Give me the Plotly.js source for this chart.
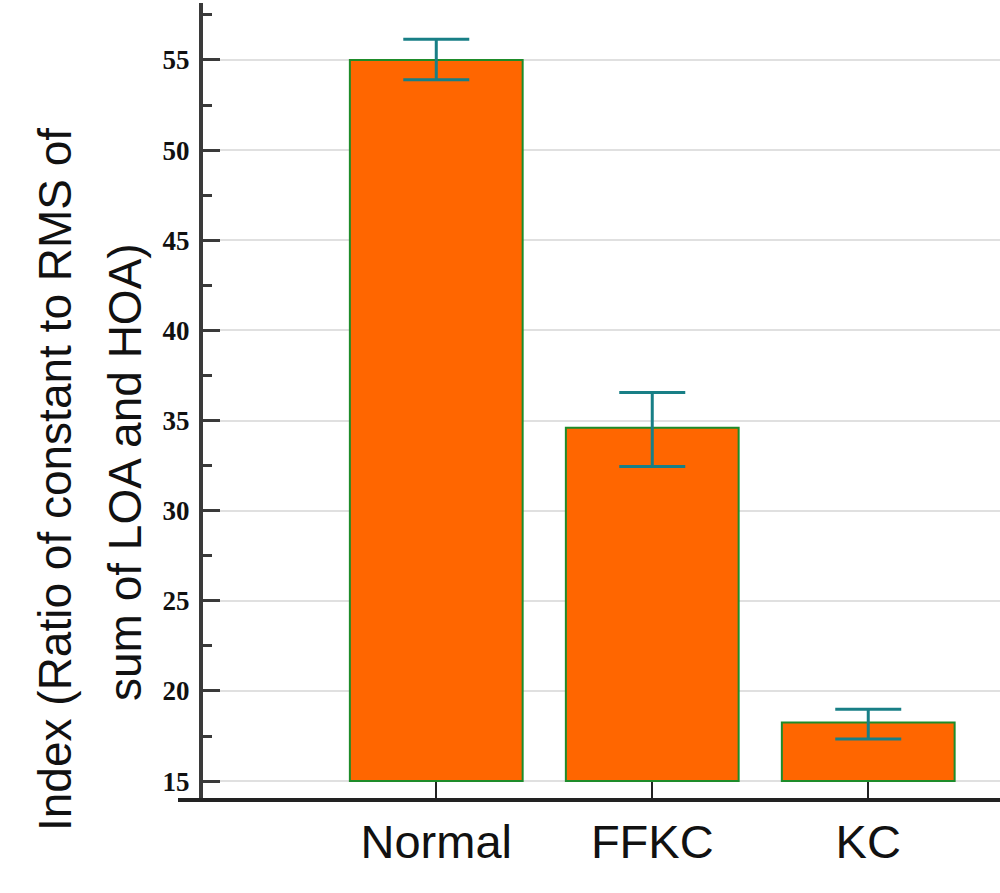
<!DOCTYPE html>
<html>
<head>
<meta charset="utf-8">
<script src="https://cdn.plot.ly/plotly-3.0.1.min.js"></script>
<style>
  html, body { margin: 0; padding: 0; background: #fff; }
  #chart { width: 1000px; height: 893px; }
</style>
</head>
<body>
<div id="chart"></div>
<script>
// values
var groups = ["Normal", "FFKC", "KC"];
var means = [55.0, 34.6, 18.25];
var upper = [56.15, 36.56, 18.99];
var lower = [53.9, 32.45, 17.33];
var baseLevel = 15;
var yTicks = [15, 20, 25, 30, 35, 40, 45, 50, 55];
var titleLines = ["Index (Ratio of constant to RMS of", "sum of LOA and HOA)"];

var heights = means.map(function (m) { return m - baseLevel; });
var errPlus = upper.map(function (u, i) { return u - means[i]; });
var errMinus = lower.map(function (l, i) { return means[i] - l; });

var data = [{
    type: "bar",
    x: groups,
    y: heights,
    base: groups.map(function () { return baseLevel; }),
    width: 0.8,
    marker: {
        color: "#ff6600",
        line: { color: "#1e8c2a", width: 2 }
    },
    error_y: {
        type: "data",
        symmetric: false,
        array: errPlus,
        arrayminus: errMinus,
        color: "#187f86",
        thickness: 3,
        width: 33
    },
    hoverinfo: "none"
}];

var titleFont = { family: "Liberation Sans, Arial, sans-serif", size: 46, color: "#111111" };

var layout = {
    width: 1000,
    height: 893,
    margin: { l: 203, r: 0, t: 3, b: 93 },
    paper_bgcolor: "#ffffff",
    plot_bgcolor: "#ffffff",
    showlegend: false,
    xaxis: {
        type: "category",
        range: [-1.08, 2.61],
        showline: false,
        showgrid: false,
        zeroline: false,
        ticks: "inside",
        ticklen: 18,
        tickwidth: 2,
        tickcolor: "#222222",
        tickfont: { family: "Liberation Sans, Arial, sans-serif", size: 47, color: "#111111" },
        ticklabelstandoff: 10
    },
    yaxis: {
        range: [13.95, 58.16],
        tickvals: yTicks,
        ticktext: yTicks.map(String),
        showline: true,
        linecolor: "#3a3a3a",
        linewidth: 4,
        showgrid: true,
        gridcolor: "#e0e0e0",
        gridwidth: 2,
        zeroline: false,
        ticks: "inside",
        ticklen: 17,
        tickwidth: 3,
        tickcolor: "#3a3a3a",
        tickfont: { family: "Liberation Serif, Times New Roman, serif", size: 27, color: "#111111", weight: "bold" },
        ticklabelstandoff: 4,
        minor: {
            dtick: 2.5,
            tick0: 0,
            ticks: "inside",
            ticklen: 9,
            tickwidth: 3,
            tickcolor: "#3a3a3a",
            showgrid: false
        }
    },
    shapes: [{
        type: "line",
        xref: "paper", yref: "paper",
        x0: -25 / 797, x1: 1,
        y0: 0, y1: 0,
        line: { color: "#222222", width: 4 }
    }],
    annotations: [{
        xref: "paper", yref: "paper",
        x: 0, y: (800 - 480) / 797,
        xshift: -148,
        xanchor: "center", yanchor: "middle",
        textangle: -90,
        showarrow: false,
        text: titleLines[0],
        font: titleFont
    }, {
        xref: "paper", yref: "paper",
        x: 0, y: (800 - 472) / 797,
        xshift: -78,
        xanchor: "center", yanchor: "middle",
        textangle: -90,
        showarrow: false,
        text: titleLines[1],
        font: titleFont
    }]
};

Plotly.newPlot("chart", data, layout, { displayModeBar: false, staticPlot: true });
</script>
</body>
</html>
